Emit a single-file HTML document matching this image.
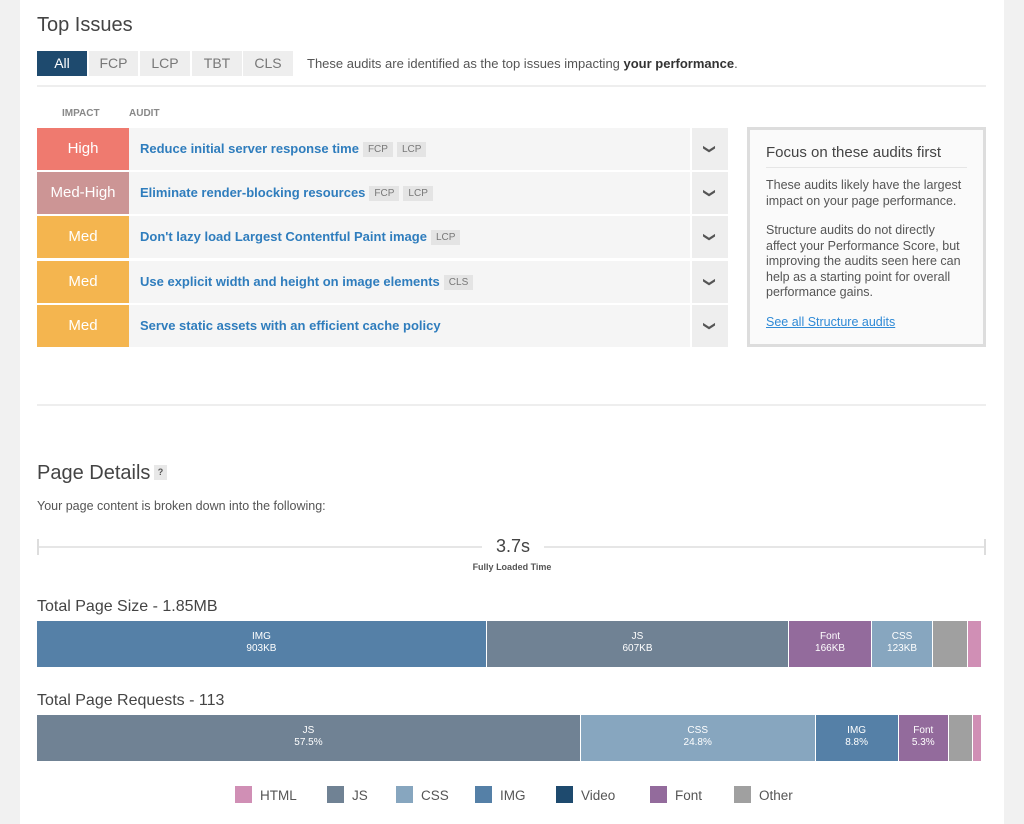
<!DOCTYPE html>
<html><head><meta charset="utf-8">
<style>
*{box-sizing:border-box;margin:0;padding:0}
body{width:1024px;height:824px;background:#f1f1f1;font-family:"Liberation Sans",sans-serif;position:relative;overflow:hidden;color:#444}
#page{position:absolute;left:20px;top:0;width:984px;height:824px;background:#fff}
.a{position:absolute}
h2{font-weight:normal;color:#444;font-size:20px;position:absolute}
.tab{position:absolute;top:51px;height:25px;background:#eee;color:#777;font-size:14px;text-align:center;line-height:25px}
.row{position:absolute;left:37px;width:691px;height:42px}
.imp{position:absolute;left:0;top:0;width:92px;height:42px;color:#fff;font-size:15px;text-align:center;line-height:42px}
.ttl{position:absolute;left:92px;top:0;width:561px;height:42px;background:#f5f5f5;line-height:42px;padding-left:11px;font-size:13px;font-weight:bold;color:#2f7dbd}
.tag{display:inline-block;background:#e4e4e4;color:#777;font-weight:normal;font-size:10px;line-height:15px;padding:0 5px;margin-left:4px;vertical-align:1px}
.chev{position:absolute;left:655px;top:0;width:36px;height:42px;background:#eee;text-align:center;line-height:42px;color:#555;font-size:12px;font-family:"DejaVu Sans",sans-serif}
.seg{position:absolute;height:46px;color:#fff;font-size:10px;text-align:center;padding-top:10px;line-height:12px;border-right:1px solid #fff}
.leg{position:absolute;top:786px;font-size:13.5px;color:#555}
.leg i{display:inline-block;width:17px;height:17px;vertical-align:-3px;margin-right:8px}
</style></head><body>
<div id="page"></div>
<h2 style="left:37px;top:14px">Top Issues</h2>
<div class="tab" style="left:37px;width:50px;background:#1e4a6e;color:#fff">All</div>
<div class="tab" style="left:89px;width:49px">FCP</div>
<div class="tab" style="left:140px;width:50px">LCP</div>
<div class="tab" style="left:192px;width:50px">TBT</div>
<div class="tab" style="left:243px;width:50px">CLS</div>
<div class="a" style="left:307px;top:56px;font-size:13px;color:#555">These audits are identified as the top issues impacting <b style="color:#333">your performance</b>.</div>
<div class="a" style="left:37px;top:85px;width:949px;height:2px;background:#eee"></div>
<div class="a" style="left:62px;top:108px;font-size:10px;font-weight:bold;color:#888">IMPACT</div>
<div class="a" style="left:129px;top:108px;font-size:10px;font-weight:bold;color:#888">AUDIT</div>

<div class="row" style="top:128px"><div class="imp" style="background:#ef7a6f">High</div><div class="ttl">Reduce initial server response time<span class="tag">FCP</span><span class="tag">LCP</span></div><div class="chev"><span style="display:inline-block;transform:rotate(90deg)">&#10095;</span></div></div>
<div class="row" style="top:172px"><div class="imp" style="background:#cc9595">Med-High</div><div class="ttl">Eliminate render-blocking resources<span class="tag">FCP</span><span class="tag">LCP</span></div><div class="chev"><span style="display:inline-block;transform:rotate(90deg)">&#10095;</span></div></div>
<div class="row" style="top:216px"><div class="imp" style="background:#f4b54f">Med</div><div class="ttl">Don't lazy load Largest Contentful Paint image<span class="tag">LCP</span></div><div class="chev"><span style="display:inline-block;transform:rotate(90deg)">&#10095;</span></div></div>
<div class="row" style="top:261px"><div class="imp" style="background:#f4b54f">Med</div><div class="ttl">Use explicit width and height on image elements<span class="tag">CLS</span></div><div class="chev"><span style="display:inline-block;transform:rotate(90deg)">&#10095;</span></div></div>
<div class="row" style="top:305px"><div class="imp" style="background:#f4b54f">Med</div><div class="ttl">Serve static assets with an efficient cache policy</div><div class="chev"><span style="display:inline-block;transform:rotate(90deg)">&#10095;</span></div></div>

<div class="a" style="left:747px;top:127px;width:239px;height:220px;border:3px solid #ddd;background:#fafafa;padding:14px 16px">
<div style="font-size:15px;color:#444;padding-bottom:6px;border-bottom:1px solid #e6e6e6">Focus on these audits first</div>
<div style="font-size:12.5px;color:#555;line-height:15.5px;margin-top:10px">These audits likely have the largest impact on your page performance.</div>
<div style="font-size:12.5px;color:#555;line-height:15.5px;margin-top:14px">Structure audits do not directly affect your Performance Score, but improving the audits seen here can help as a starting point for overall performance gains.</div>
<div style="font-size:12.5px;color:#2f8ad6;text-decoration:underline;margin-top:14px">See all Structure audits</div>
</div>

<div class="a" style="left:37px;top:404px;width:949px;height:2px;background:#eee"></div>
<h2 style="left:37px;top:462px">Page Details</h2>
<div class="a" style="left:154px;top:465px;width:13px;height:15px;background:#e8e8e8;font-size:9px;font-weight:bold;text-align:center;line-height:15px;color:#555">?</div>
<div class="a" style="left:37px;top:499px;font-size:12.5px;color:#555">Your page content is broken down into the following:</div>

<div class="a" style="left:37px;top:546px;width:949px;height:2px;background:#e6e6e6"></div>
<div class="a" style="left:37px;top:539px;width:2px;height:16px;background:#ddd"></div>
<div class="a" style="left:984px;top:539px;width:2px;height:16px;background:#ddd"></div>
<div class="a" style="left:482px;top:536px;width:62px;height:22px;background:#fff;text-align:center;font-size:18px;color:#444">3.7s</div>
<div class="a" style="left:452px;top:562px;width:120px;text-align:center;font-size:9px;font-weight:bold;color:#555">Fully Loaded Time</div>

<div class="a" style="left:37px;top:598px;font-size:16px;color:#444">Total Page Size - 1.85MB</div>
<div class="a" style="left:37px;top:692px;font-size:16px;color:#444">Total Page Requests - 113</div>
<div id="bars"></div>

<div class="leg" style="left:235px"><i style="background:#d08fb5"></i>HTML</div>
<div class="leg" style="left:327px"><i style="background:#708294"></i>JS</div>
<div class="leg" style="left:396px"><i style="background:#87a6bf"></i>CSS</div>
<div class="leg" style="left:475px"><i style="background:#5580a7"></i>IMG</div>
<div class="leg" style="left:556px"><i style="background:#1e4a6e"></i>Video</div>
<div class="leg" style="left:650px"><i style="background:#936b9c"></i>Font</div>
<div class="leg" style="left:734px"><i style="background:#a0a0a0"></i>Other</div>

<script>
const sizeCats=["IMG","JS","Font","CSS","Other","HTML"];
const sizeVals=[903,607,166,123,70,28];
const sizeLabels=["903KB","607KB","166KB","123KB","",""];
const reqCats=["JS","CSS","IMG","Font","Other","HTML"];
const reqVals=[57.5,24.8,8.8,5.3,2.6,0.9];
const reqLabels=["57.5%","24.8%","8.8%","5.3%","",""];
const colors={HTML:"#d08fb5",JS:"#708294",CSS:"#87a6bf",IMG:"#5580a7",Video:"#1e4a6e",Font:"#936b9c",Other:"#a0a0a0"};
const BX=37,BW=945;
function drawBar(cats,vals,labels,top,name){
  const total=vals.reduce((a,b)=>a+b,0);
  let x=BX;
  const host=document.getElementById('bars');
  cats.forEach((c,i)=>{
    const w=vals[i]/total*BW;
    const d=document.createElement('div');
    d.className='seg';
    d.style.left=x+'px';d.style.top=top+'px';d.style.width=w+'px';
    d.style.background=colors[c];
    d.innerHTML=labels[i]?c+'<br>'+labels[i]:'';
    
    
    host.appendChild(d);
    x+=w;
  });
}
drawBar(sizeCats,sizeVals,sizeLabels,621,'size-segment');
drawBar(reqCats,reqVals,reqLabels,715,'requests-segment');
</script>
</body></html>
